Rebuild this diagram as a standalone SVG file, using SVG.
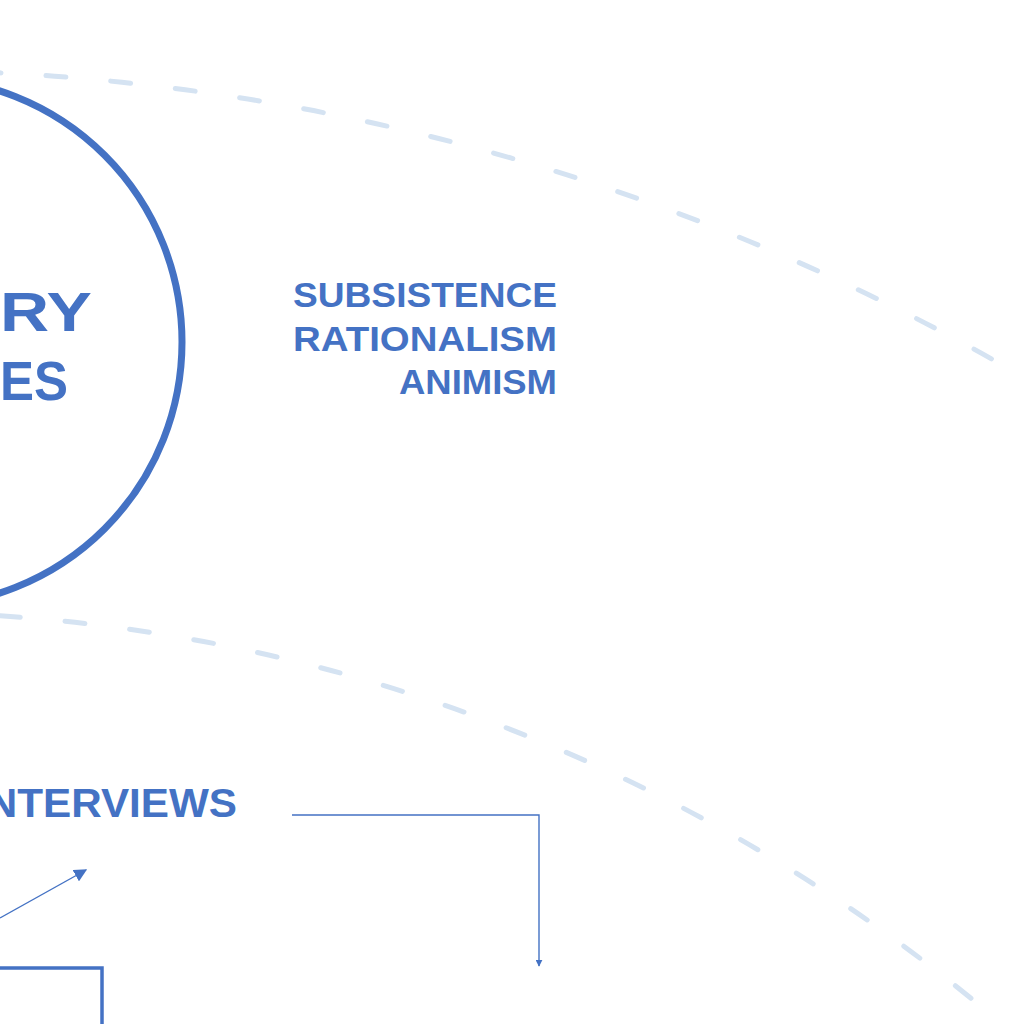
<svg xmlns="http://www.w3.org/2000/svg" width="1024" height="1024" viewBox="0 0 1024 1024">
<defs>
<style>
.lbl{font-family:"Liberation Sans","DejaVu Sans",sans-serif;font-weight:bold;fill:#4472C4}
.ring{fill:none;stroke:#D5E3F2;stroke-width:5;stroke-dasharray:20 45;stroke-linecap:round}
.conn{fill:none;stroke:#4472C4;stroke-width:1.4}
</style>
<marker id="ahBig" viewBox="0 0 10 10" refX="9" refY="5" markerWidth="13" markerHeight="13" markerUnits="userSpaceOnUse" orient="auto"><path d="M0,0 L10,5 L0,10 z" fill="#4472C4"/></marker>
<marker id="ahSmall" viewBox="0 0 10 10" refX="9" refY="5" markerWidth="7" markerHeight="7" markerUnits="userSpaceOnUse" orient="auto"><path d="M0,0 L10,5 L0,10 z" fill="#4472C4"/></marker>
</defs>
<rect width="1024" height="1024" fill="#ffffff"/>
<g id="rings">
<circle class="ring" cx="-113" cy="2326" r="2256"/>
<circle class="ring" cx="-113" cy="2326" r="1714"/>
</g>
<g id="node-core">
<circle cx="-82" cy="342" r="264" fill="none" stroke="#4472C4" stroke-width="7"/>
<text class="lbl" x="0" y="331" font-size="56" textLength="92" lengthAdjust="spacingAndGlyphs">RY</text>
<text class="lbl" x="0" y="400" font-size="56" textLength="68" lengthAdjust="spacingAndGlyphs">ES</text>
</g>
<g id="node-worldviews">
<text class="lbl" x="293" y="307" font-size="35" textLength="264" lengthAdjust="spacingAndGlyphs">SUBSISTENCE</text>
<text class="lbl" x="293" y="351" font-size="35" textLength="264" lengthAdjust="spacingAndGlyphs">RATIONALISM</text>
<text class="lbl" x="399" y="394" font-size="35" textLength="158" lengthAdjust="spacingAndGlyphs">ANIMISM</text>
</g>
<g id="node-interviews">
<text class="lbl" x="-25" y="817" font-size="40" textLength="262" lengthAdjust="spacingAndGlyphs">INTERVIEWS</text>
</g>
<g id="node-box">
<rect x="-200" y="968" width="302" height="120" fill="none" stroke="#4472C4" stroke-width="3.5"/>
</g>
<g id="connectors">
<path class="conn" d="M292,815 H539 V966" marker-end="url(#ahSmall)"/>
<path class="conn" d="M0,918 L86,870" stroke-width="2" marker-end="url(#ahBig)"/>
</g>
</svg>
